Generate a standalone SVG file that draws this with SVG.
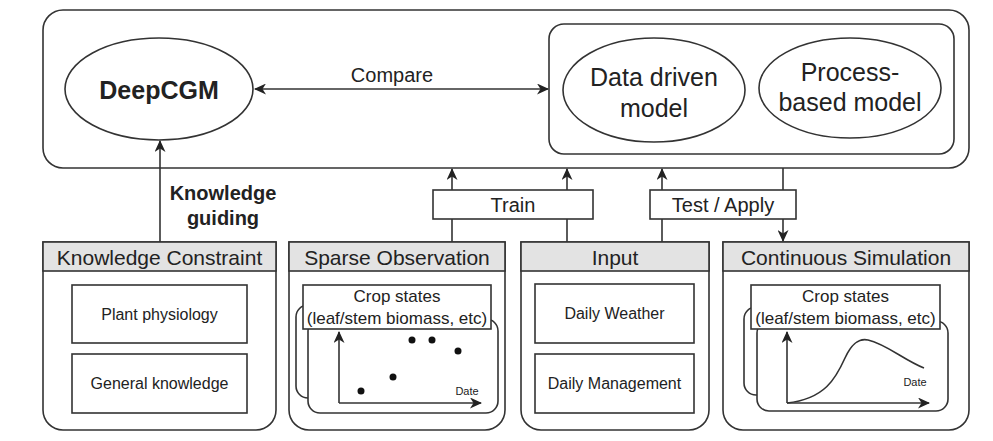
<svg xmlns="http://www.w3.org/2000/svg" width="993" height="441" viewBox="0 0 993 441">
<style>
text{font-family:"Liberation Sans",Arial,sans-serif;fill:#222;text-anchor:middle;dominant-baseline:central}
.ln{fill:none;stroke:#333;stroke-width:1.6}
.box{fill:#fff;stroke:#333;stroke-width:1.6}
.hdr{fill:#e3e3e3;stroke:#333;stroke-width:1.6}
.t25{font-size:25px}
.t20{font-size:20px}
.t21{font-size:21px}
.t17{font-size:17px}
.t16{font-size:16px}
.t11{font-size:11px}
</style>
<defs>
<marker id="ah" markerWidth="12" markerHeight="11" viewBox="0 0 12 11" refX="11" refY="5.5" orient="auto-start-reverse" markerUnits="userSpaceOnUse">
<path d="M0,0 L12,5.5 L0,11 L3.5,5.5 z" fill="#222"/>
</marker>
</defs>
<rect x="0" y="0" width="993" height="441" fill="#fff"/>

<g id="outer"><rect x="43" y="10" width="926" height="158" rx="20" class="box"/></g>
<g id="models-group"><rect x="549" y="24" width="405" height="130" rx="15" class="box"/></g>

<g id="deepcgm">
<ellipse cx="159" cy="89" rx="94" ry="51" class="box"/>
<text x="159" y="90" class="t25" font-weight="bold">DeepCGM</text>
</g>
<g id="data-driven">
<ellipse cx="654" cy="90" rx="91" ry="52" class="box"/>
<text x="654" y="77" class="t25">Data driven</text>
<text x="654" y="108" class="t25">model</text>
</g>
<g id="process-based">
<ellipse cx="850" cy="88" rx="91" ry="50" class="box"/>
<text x="850" y="72" class="t25">Process-</text>
<text x="850" y="102" class="t25">based model</text>
</g>

<g id="connectors">
<line x1="255" y1="89" x2="548" y2="89" class="ln" marker-start="url(#ah)" marker-end="url(#ah)"/>
<line x1="160" y1="242" x2="160" y2="141" class="ln" marker-end="url(#ah)"/>
<line x1="452" y1="242" x2="452" y2="169" class="ln" marker-end="url(#ah)"/>
<line x1="567" y1="242" x2="567" y2="169" class="ln" marker-end="url(#ah)"/>
<line x1="662" y1="242" x2="662" y2="169" class="ln" marker-end="url(#ah)"/>
<line x1="783" y1="168" x2="783" y2="241" class="ln" marker-end="url(#ah)"/>
</g>
<text x="392" y="75" class="t20" font-size="19">Compare</text>
<text x="223" y="193" class="t20" font-weight="bold">Knowledge</text>
<text x="223" y="218" class="t20" font-weight="bold">guiding</text>

<g id="train">
<rect x="433" y="190" width="160" height="29" class="box"/>
<text x="513" y="205" class="t20">Train</text>
</g>
<g id="test-apply">
<rect x="650" y="190" width="146" height="29" class="box"/>
<text x="723" y="205" class="t20">Test / Apply</text>
</g>

<g id="knowledge-constraint">
<path d="M43,242 H276 V410 A20,20 0 0 1 256,430 H63 A20,20 0 0 1 43,410 Z" class="box"/>
<rect x="43" y="242" width="233" height="29" class="hdr"/>
<text x="159.5" y="257" class="t21">Knowledge Constraint</text>
<rect x="72" y="285" width="175" height="58" class="box"/>
<text x="159.5" y="314" class="t16">Plant physiology</text>
<rect x="72" y="354" width="175" height="59" class="box"/>
<text x="159.5" y="383" class="t16">General knowledge</text>
</g>

<g id="sparse-observation">
<path d="M289,242 H505 V410 A20,20 0 0 1 485,430 H309 A20,20 0 0 1 289,410 Z" class="box"/>
<rect x="289" y="242" width="216" height="29" class="hdr"/>
<text x="397" y="257" class="t21">Sparse Observation</text>
<rect x="296" y="305" width="190" height="93" rx="12" class="box"/>
<rect x="308" y="319" width="190" height="94" rx="12" class="box"/>
<rect x="303" y="285" width="188" height="44" class="box"/>
<text x="397" y="296" class="t17">Crop states</text>
<text x="397" y="318" class="t17">(leaf/stem biomass, etc)</text>
<line x1="339" y1="403" x2="339" y2="332" class="ln" marker-end="url(#ah)"/>
<line x1="339" y1="403" x2="481" y2="403" class="ln" marker-end="url(#ah)"/>
<text x="467" y="391" class="t11">Date</text>
<g fill="#111">
<circle cx="361" cy="391" r="3.5"/>
<circle cx="393" cy="377" r="3.5"/>
<circle cx="412" cy="340" r="3.5"/>
<circle cx="432" cy="340" r="3.5"/>
<circle cx="458" cy="351" r="3.5"/>
</g>
</g>

<g id="input">
<path d="M521,242 H709 V410 A20,20 0 0 1 689,430 H541 A20,20 0 0 1 521,410 Z" class="box"/>
<rect x="521" y="242" width="188" height="29" class="hdr"/>
<text x="615" y="257" class="t21">Input</text>
<rect x="535" y="284" width="159" height="59" class="box"/>
<text x="614.5" y="313" class="t16">Daily Weather</text>
<rect x="535" y="354" width="159" height="59" class="box"/>
<text x="614.5" y="383" class="t16">Daily Management</text>
</g>

<g id="continuous-simulation">
<path d="M723,242 H969 V410 A20,20 0 0 1 949,430 H743 A20,20 0 0 1 723,410 Z" class="box"/>
<rect x="723" y="242" width="246" height="29" class="hdr"/>
<text x="846" y="257" class="t21">Continuous Simulation</text>
<rect x="744" y="307" width="190" height="88" rx="12" class="box"/>
<rect x="757" y="321" width="191" height="90" rx="12" class="box"/>
<rect x="751" y="285" width="189" height="44" class="box"/>
<text x="845.5" y="296" class="t17">Crop states</text>
<text x="845.5" y="318" class="t17">(leaf/stem biomass, etc)</text>
<line x1="787" y1="403" x2="787" y2="332" class="ln" marker-end="url(#ah)"/>
<line x1="787" y1="403" x2="929" y2="403" class="ln" marker-end="url(#ah)"/>
<path d="M787,403 C825,399 836,378 845,358 C852,343 859,338 868,340 C886,344 904,360 924,368" class="ln"/>
<text x="915" y="382" class="t11">Date</text>
</g>
</svg>
